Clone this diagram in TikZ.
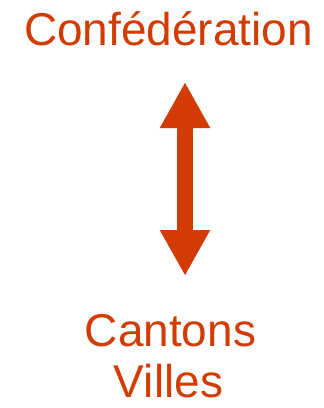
\documentclass[tikz,border=0pt]{standalone}
\usepackage{fontspec}
\setmainfont{Liberation Sans}
\usetikzlibrary{arrows.meta}
\definecolor{rouge}{HTML}{D23B02}
\begin{document}
\begin{tikzpicture}[x=1pt, y=1pt, line join=round,
  label/.style={text=rouge, inner sep=0pt, anchor=base, font=\fontsize{46}{56}\selectfont},
  link/.style={draw=rouge, line width=16pt, {Triangle[length=46pt,width=47pt]}-{Triangle[length=46pt,width=47pt]}}]
\useasboundingbox (0,0) rectangle (324,-408);
\node[label] (conf) at (168.5,-45) {Confédération};
\node[label] (cant) at (170.5,-346) {Cantons};
\node[label] (vill) at (168.5,-397.5) {Villes};
\coordinate (haut) at (185,-82);
\coordinate (bas) at (185,-276);
\draw[link] (haut) -- (bas);
\end{tikzpicture}
\end{document}
